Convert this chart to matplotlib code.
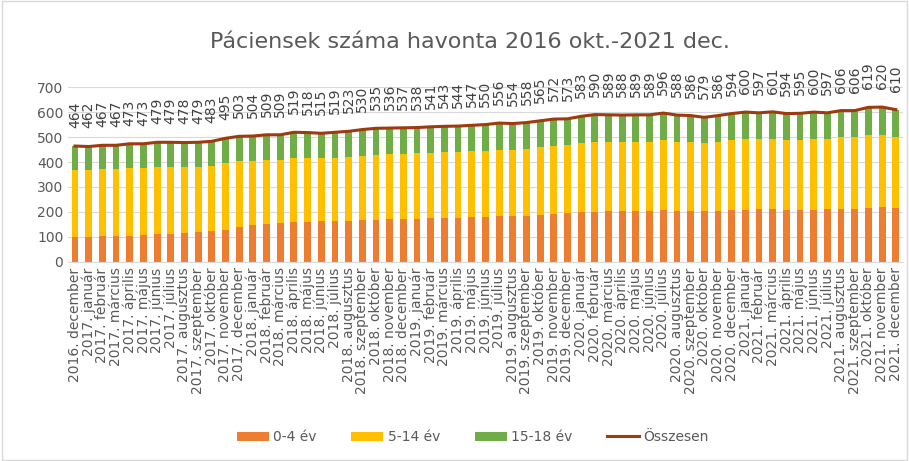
import numpy as np
import matplotlib.pyplot as plt
from matplotlib.patches import Rectangle

years_months = [(2016, "december")]
month_names = ["január", "február", "március", "április", "május", "június",
               "július", "augusztus", "szeptember", "október", "november", "december"]
for year in range(2017, 2022):
    for name in month_names:
        years_months.append((year, name))
labels = ["{0}. {1}".format(y, m) for y, m in years_months]

totals = [464, 462, 467, 467, 473, 473, 479, 479, 478, 479,
          483, 495, 503, 504, 509, 509, 519, 518, 515, 519,
          523, 530, 535, 536, 537, 538, 541, 543, 544, 547,
          550, 556, 554, 558, 565, 572, 573, 583, 590, 589,
          588, 589, 589, 596, 588, 586, 579, 586, 594, 600,
          597, 601, 594, 595, 600, 597, 606, 606, 619, 620,
          610]

age_0_4 = [98, 100, 102, 104, 105, 107, 110, 112, 115, 118,
           122, 128, 140, 148, 152, 155, 158, 160, 162, 163,
           165, 166, 168, 170, 172, 172, 174, 175, 176, 178,
           180, 182, 183, 185, 188, 192, 195, 198, 200, 202,
           203, 204, 205, 206, 205, 204, 202, 204, 206, 208,
           210, 211, 209, 208, 209, 210, 211, 212, 216, 218,
           214]

age_5_14 = [271, 268, 269, 268, 271, 270, 271, 270, 267, 264,
            263, 267, 263, 257, 257, 255, 259, 257, 253, 255,
            256, 260, 262, 262, 261, 263, 263, 264, 265, 265,
            266, 268, 267, 268, 271, 273, 272, 277, 280, 278,
            277, 277, 277, 281, 276, 276, 273, 277, 282, 285,
            281, 283, 280, 281, 285, 282, 289, 288, 293, 292,
            288]

age_15_18 = [95, 94, 96, 95, 97, 96, 98, 97, 96, 97,
             98, 100, 100, 99, 100, 99, 102, 101, 100, 101,
             102, 104, 105, 104, 104, 103, 104, 104, 103, 104,
             104, 106, 104, 105, 106, 107, 106, 108, 110, 109,
             108, 108, 107, 109, 107, 106, 104, 105, 106, 107,
             106, 107, 105, 106, 106, 105, 106, 106, 110, 110,
             108]

text_color = "#595959"

fig = plt.figure(figsize=(9.09, 4.61), dpi=100)
fig.patches.append(Rectangle((0.002, 0.002), 0.996, 0.996, transform=fig.transFigure,
                             fill=False, edgecolor="#D9D9D9", linewidth=1))
ax = fig.add_axes([0.075, 0.432, 0.918, 0.379])

x = np.arange(len(labels))
a = np.array(age_0_4)
b = np.array(age_5_14)
c = np.array(age_15_18)
width = 0.5
ax.bar(x, a, width, color="#ED7D31", label="0-4 év", zorder=2)
ax.bar(x, b, width, bottom=a, color="#FFC000", label="5-14 év", zorder=2)
ax.bar(x, c, width, bottom=a + b, color="#70AD47", label="15-18 év", zorder=2)
ax.plot(x, totals, color="#9E3A10", linewidth=2.2, label="Összesen", zorder=3)

for xi, total in zip(x, totals):
    ax.annotate(str(total), (xi, total), xytext=(0, 13), textcoords="offset points",
                rotation=90, ha="center", va="bottom", fontsize=10, color="#404040")

ax.set_xlim(-0.5, len(labels) - 0.5)
ax.set_ylim(0, 700)
ax.set_yticks(range(0, 701, 100))
ax.set_xticks(x)
ax.set_xticklabels(labels, rotation=90, fontsize=10, color=text_color)
ax.tick_params(axis="y", labelsize=10, labelcolor=text_color, length=0)
ax.tick_params(axis="x", length=0, pad=4)
ax.grid(axis="y", color="#D9D9D9", linewidth=0.8, zorder=0)
for side in ["top", "right", "left"]:
    ax.spines[side].set_visible(False)
ax.spines["bottom"].set_color("#D9D9D9")

fig.text(0.517, 0.909, "Páciensek száma havonta 2016 okt.-2021 dec.", ha="center", va="center",
         fontsize=16, color=text_color)

# bars first, then the total line, like the original legend
handles, leg_labels = ax.get_legend_handles_labels()
order = [1, 2, 3, 0]
fig.legend([handles[i] for i in order], [leg_labels[i] for i in order],
           loc="center", bbox_to_anchor=(0.52, 0.052), ncol=4,
           frameon=False, fontsize=10, labelcolor=text_color, handlelength=2.3,
           handleheight=0.6, columnspacing=2.5, handletextpad=0.3)

fig.savefig("out.png", dpi=100)
